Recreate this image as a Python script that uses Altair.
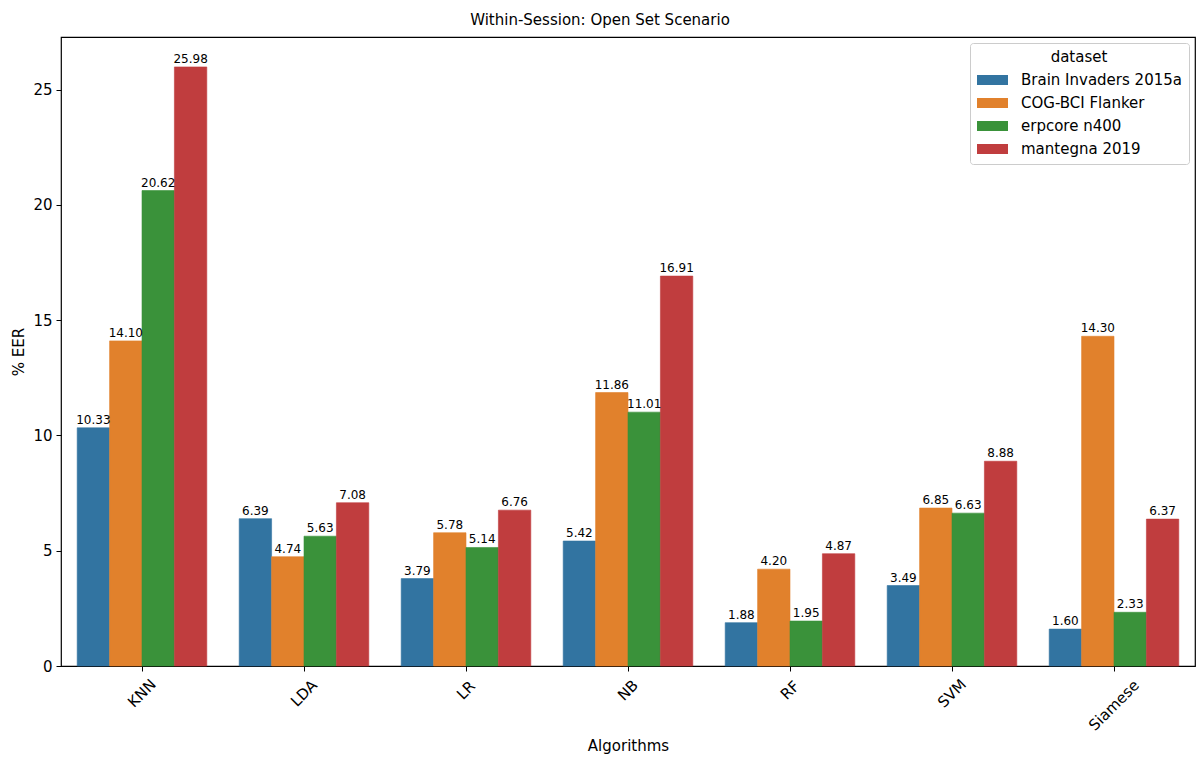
import altair as alt
import pandas as pd

# Equal error rates (%) per algorithm, one list per dataset
algorithms = ["KNN", "LDA", "LR", "NB", "RF", "SVM", "Siamese"]
datasets = ["Brain Invaders 2015a", "COG-BCI Flanker", "erpcore n400", "mantegna 2019"]
brain_invaders = [10.33, 6.39, 3.79, 5.42, 1.88, 3.49, 1.60]
cog_bci_flanker = [14.10, 4.74, 5.78, 11.86, 4.20, 6.85, 14.30]
erpcore_n400 = [20.62, 5.63, 5.14, 11.01, 1.95, 6.63, 2.33]
mantegna_2019 = [25.98, 7.08, 6.76, 16.91, 4.87, 8.88, 6.37]
y_ticks = [0, 5, 10, 15, 20, 25]
palette = ["#3274a1", "#e1812c", "#3a923a", "#c03d3e"]

rows = []
for ds, vals in zip(datasets, [brain_invaders, cog_bci_flanker, erpcore_n400, mantegna_2019]):
    for alg, v in zip(algorithms, vals):
        rows.append({"Algorithm": alg, "dataset": ds, "EER": v})
df = pd.DataFrame(rows)
alg_df = pd.DataFrame({"Algorithm": algorithms})

W, H = 1134, 629
FONT = "DejaVu Sans"
y_max = max(max(brain_invaders), max(cog_bci_flanker), max(erpcore_n400), max(mantegna_2019)) * 1.05

x_enc = alt.X(
    "Algorithm:N",
    sort=algorithms,
    scale=alt.Scale(paddingInner=0.2, paddingOuter=0.1),
    axis=alt.Axis(
        labels=False, ticks=True, tickSize=5, tickColor="black", tickWidth=1,
        domain=False, title="Algorithms", titlePadding=67, titleFontSize=15,
        titleFont=FONT, titleFontWeight="normal", titleColor="black",
    ),
)
xoff_enc = alt.XOffset("dataset:N", sort=datasets, scale=alt.Scale(paddingInner=0, paddingOuter=0))
y_enc = alt.Y(
    "EER:Q",
    scale=alt.Scale(domain=[0, y_max], nice=False, zero=True),
    axis=alt.Axis(
        values=y_ticks, grid=False, domain=False, tickSize=5, tickColor="black", tickWidth=1,
        labelFontSize=15, labelFont=FONT, labelColor="black", labelPadding=4,
        title="% EER", titlePadding=6, titleFontSize=15, titleFont=FONT,
        titleFontWeight="normal", titleColor="black",
    ),
)

color_scale = alt.Scale(domain=datasets, range=palette)

bars = alt.Chart(df).mark_bar(strokeWidth=0.6).encode(
    x=x_enc,
    xOffset=xoff_enc,
    y=y_enc,
    stroke=alt.Stroke("dataset:N", sort=datasets, scale=color_scale, legend=None),
    color=alt.Color(
        "dataset:N",
        sort=datasets,
        scale=color_scale,
        legend=alt.Legend(
            title="dataset", orient="top-right", offset=6,
            titleFontSize=15, titleFont=FONT, titleFontWeight="normal", titleColor="black",
            titleAnchor="middle", titlePadding=5,
            labelFontSize=15, labelFont=FONT, labelColor="black", labelOffset=24, labelLimit=0,
            # wide flat swatch; drawn wider than its layout box so rows stay compact
            symbolType="M-1,-0.5H2.1V0.5H-1Z", symbolSize=400, symbolStrokeWidth=0,
            symbolOpacity=1, rowPadding=5, padding=7,
            fillColor="white", strokeColor="#cccccc", cornerRadius=3,
        ),
    ),
)

values = alt.Chart(df).mark_text(
    baseline="bottom", align="center", dy=-1, fontSize=12, font=FONT, color="black"
).encode(
    x=x_enc,
    xOffset=xoff_enc,
    y=y_enc,
    text=alt.Text("EER:Q", format=".2f"),
)

# Rotated category labels, pushed down according to their length
cat_labels = alt.Chart(alg_df).transform_calculate(
    ly=f"{H} + 13 + (length(datum.Algorithm) * 8.5 + 15) / 2.83"
).mark_text(
    angle=315, align="center", baseline="middle", fontSize=15, font=FONT, color="black"
).encode(
    x=x_enc,
    y=alt.Y("ly:Q", scale=None, axis=None),
    text="Algorithm:N",
)

chart = alt.layer(bars, values, cat_labels).properties(
    width=W,
    height=H,
    background="white",
    autosize=alt.AutoSizeParams(type="none"),
    padding={"left": 61, "top": 37, "right": 2, "bottom": 92},
    title=alt.TitleParams(
        "Within-Session: Open Set Scenario", fontSize=15, font=FONT, fontWeight="normal",
        color="black", anchor="middle", dx=-28, offset=9,
    ),
).configure_view(stroke="black", strokeWidth=1.2)

chart.save("out.html", embed_options={"renderer": "svg", "actions": False})
